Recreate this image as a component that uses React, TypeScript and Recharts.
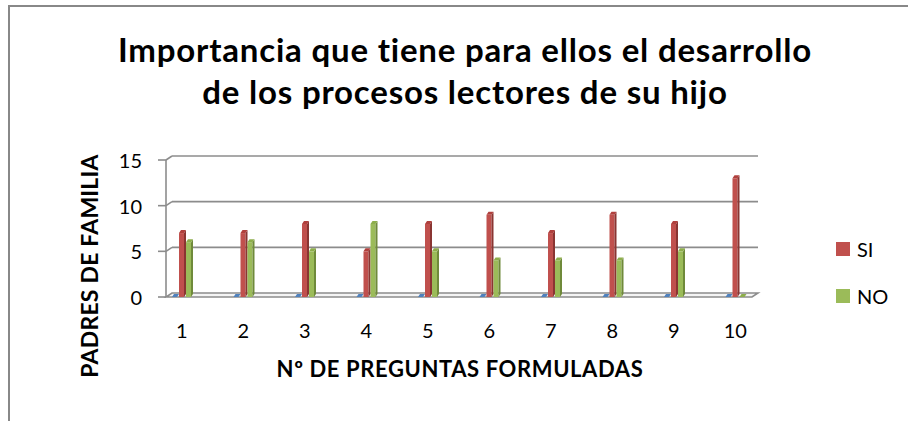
import { BarChart, Bar, XAxis, YAxis, CartesianGrid, Legend } from 'recharts'

const preguntas = ['1', '2', '3', '4', '5', '6', '7', '8', '9', '10']
const si = [7, 7, 8, 5, 8, 9, 7, 9, 8, 13]
const no = [6, 6, 5, 8, 5, 4, 4, 4, 5, 0]
const serie3 = [0, 0, 0, 0, 0, 0, 0, 0, 0, 0]
const yTicks = [0, 5, 10, 15]
const legendOrder = ['SI', 'NO']

const data = preguntas.map((p, i) => ({ pregunta: p, s3: serie3[i], SI: si[i], NO: no[i] }))

const FONT = 'Lato, Carlito, Calibri, sans-serif'
const GRID = '#8c8c8c'
const DEPTH = 3

// column with a darker side face and a top face, like the Excel 3D look
const Bar3D = (props: any) => {
  const { x, y, width, height, fill, side, top } = props
  if (x == null || y == null) return null
  const f = width - 2
  const yb = y + height
  return (
    <g>
      {height > 0 && <rect x={x} y={y} width={f} height={height} fill={fill} />}
      {height > 0 && (
        <polygon
          points={`${x + f},${y} ${x + width},${y - DEPTH} ${x + width},${yb - DEPTH} ${x + f},${yb}`}
          fill={side}
        />
      )}
      <polygon
        points={`${x},${y} ${x + 2},${y - DEPTH} ${x + width},${y - DEPTH} ${x + f},${y}`}
        fill={top}
      />
    </g>
  )
}

const GridLine = (p: any) => {
  const { x1, x2, y1 } = p
  const ax = x1 + 14
  const bx1 = x1 + 20
  const bx2 = x2 - 9
  const bottom = p.y != null && p.height != null ? p.y + p.height : 297
  const top = p.y != null ? p.y : 160
  const isFloor = Math.abs(y1 - bottom) < 1
  return (
    <g key={p.key} stroke={GRID} strokeWidth={1.6} fill="none">
      <line x1={x1 + 6} y1={y1} x2={ax} y2={y1} />
      {isFloor ? (
        <>
          <polygon
            points={`${ax},${y1} ${x2 - 15},${y1} ${bx2},${y1 - 4} ${bx1},${y1 - 4}`}
            fill="#f4f4f4"
          />
          <line x1={ax} y1={y1} x2={ax} y2={top} />
        </>
      ) : (
        <>
          <line x1={ax} y1={y1} x2={bx1} y2={y1 - 4} />
          <line x1={bx1} y1={y1 - 4} x2={bx2} y2={y1 - 4} />
        </>
      )}
    </g>
  )
}

const LegendBox = ({ payload }: any) => {
  const items = legendOrder
    .map((n) => (payload || []).find((it: any) => it.value === n))
    .filter(Boolean)
  return (
    <div style={{ fontFamily: FONT }}>
      {items.map((item: any) => (
        <div key={item.value} style={{ display: 'flex', alignItems: 'center', height: 47 }}>
          <div style={{ width: 14, height: 14, background: item.color, marginRight: 7 }} />
          <span style={{ fontSize: 20, color: '#000' }}>{item.value}</span>
        </div>
      ))}
    </div>
  )
}

export default function App() {
  return (
    <div style={{ position: 'absolute', left: 0, top: 0, width: 908, height: 421, overflow: 'hidden', background: '#fff' }}>
      <div
        style={{
          position: 'absolute', left: 8, top: 5, width: 940, height: 460,
          borderLeft: '2px solid #888', borderTop: '2px solid #888',
        }}
      />
      <div
        style={{
          position: 'absolute', left: 0, top: 28, width: 930, textAlign: 'center',
          fontFamily: FONT, fontWeight: 700, fontSize: 33, lineHeight: '42px', color: '#000',
          letterSpacing: 0.8, fontVariantLigatures: 'none',
        }}
      >
        Importancia que tiene para ellos el desarrollo
        <br />
        de los procesos lectores de su hijo
      </div>
      <div
        style={{
          position: 'absolute', left: 0, top: 356, width: 920, textAlign: 'center',
          fontFamily: FONT, fontWeight: 700, fontSize: 22, lineHeight: '26px', color: '#000',
          letterSpacing: 0.6,
        }}
      >
        Nº DE PREGUNTAS FORMULADAS
      </div>
      <div
        style={{
          position: 'absolute', left: 89 - 150, top: 266 - 12, width: 300, height: 24, textAlign: 'center',
          fontFamily: FONT, fontWeight: 700, fontSize: 23, lineHeight: '24px', color: '#000',
          letterSpacing: 0.2, transform: 'rotate(-90deg)', whiteSpace: 'nowrap',
        }}
      >
        PADRES DE FAMILIA
      </div>
      <div style={{ position: 'absolute', left: 0, top: 0 }}>
        <BarChart
          width={908}
          height={421}
          data={data}
          margin={{ top: 160, right: 141, bottom: 94, left: 92 }}
          barSize={7}
          barGap={0}
        >
          <CartesianGrid vertical={false} horizontal={GridLine} />
          <XAxis
            dataKey="pregunta"
            height={30}
            axisLine={false}
            tickLine={false}
            tickSize={0}
            tickMargin={27}
            tick={{ fill: '#000', fontSize: 20, fontFamily: FONT, dx: -1 }}
          />
          <YAxis
            width={60}
            domain={[0, 15]}
            ticks={yTicks}
            axisLine={false}
            tickLine={false}
            tickSize={0}
            tickMargin={10}
            tick={{ fill: '#000', fontSize: 20, fontFamily: FONT, dy: 1 }}
          />
          <Legend
            layout="vertical"
            align="center"
            verticalAlign="middle"
            content={LegendBox}
            wrapperStyle={{ left: 836, top: 225, width: 70, height: 94 }}
          />
          <Bar
            dataKey="s3"
            legendType="none"
            fill="#4F81BD"
            isAnimationActive={false}
            shape={(p: any) => <Bar3D {...p} side="#36608F" top="#4F81BD" />}
          />
          <Bar
            dataKey="SI"
            name="SI"
            fill="#C0504D"
            isAnimationActive={false}
            shape={(p: any) => <Bar3D {...p} side="#8A3532" top="#B0403D" />}
          />
          <Bar
            dataKey="NO"
            name="NO"
            fill="#9BBB59"
            isAnimationActive={false}
            shape={(p: any) => <Bar3D {...p} side="#6F8A3A" top="#8DAE4B" />}
          />
        </BarChart>
      </div>
    </div>
  )
}
